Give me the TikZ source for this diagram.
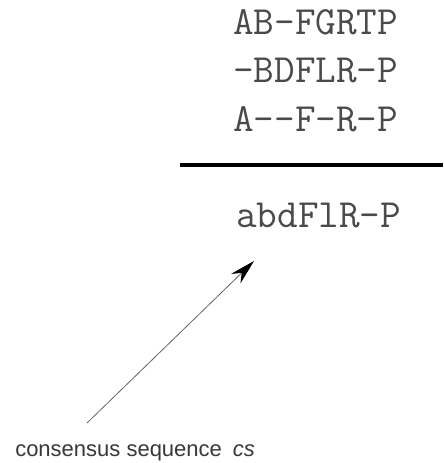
\documentclass[tikz,border=0pt]{standalone}
\usepackage{fontspec}
\setmainfont{Liberation Sans}
\usetikzlibrary{arrows.meta}
\definecolor{seqgray}{HTML}{4A4A4A}
\begin{document}
\begin{tikzpicture}[x=0.75pt,y=-0.75pt,
  seqline/.style={anchor=base west, inner sep=0pt, text=seqgray,
    font=\ttfamily\fontsize{30}{30}\selectfont},
  caption/.style={anchor=base west, inner sep=0pt, text=black!78,
    font=\fontsize{16.5}{16.5}\selectfont},
  pointer/.style={draw=black!60, line width=0.6pt,
    -{Stealth[length=19pt,width=10pt,color=black]}}]
  \useasboundingbox[fill=white] (0,0) rectangle (443,463);
  % aligned sequences
  \node[seqline] (s1) at (233,35) {AB-FGRTP};
  \node[seqline] (s2) at (233,83) {-BDFLR-P};
  \node[seqline] (s3) at (233,132) {A--F-R-P};
  % separating rule
  \coordinate (ruleL) at (180,165);
  \coordinate (ruleR) at (443,165);
  \draw[line width=2.4pt] (ruleL) -- (ruleR);
  % consensus
  \node[seqline] (cons) at (236,227) {abdFlR-P};
  % caption and pointer
  \node[caption] (lab) at (15,456) {consensus sequence\hspace{0.5em}\textit{cs}};
  \coordinate (tail) at (87,423);
  \coordinate (tip) at (254,261);
  \draw[pointer] (tail) -- (tip);
\end{tikzpicture}
\end{document}
